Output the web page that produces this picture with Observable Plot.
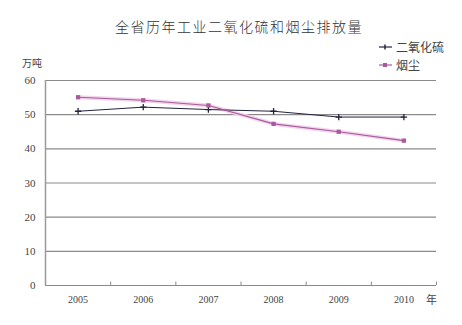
<!DOCTYPE html>
<html><head><meta charset="utf-8">
<script src="https://cdn.jsdelivr.net/npm/d3@7"></script>
<script src="https://cdn.jsdelivr.net/npm/@observablehq/plot@0.6"></script>
<style>
html,body{margin:0;padding:0;background:#fff;}
#wrap{position:relative;width:462px;height:325px;font-family:"Liberation Serif","DejaVu Serif","Noto Sans CJK SC",serif;color:#333;}
#wrap svg{position:absolute;left:0;top:0;}
.ov{position:absolute;white-space:nowrap;}
#title{left:0;width:478px;top:16px;text-align:center;font-size:14px;letter-spacing:1.5px;font-family:"Noto Sans CJK SC",sans-serif;font-weight:300;color:#333;}
#unit{left:22px;top:55px;font-size:10px;font-family:"Noto Sans CJK SC",sans-serif;color:#444;}
#yr{left:426px;top:291px;font-size:11px;font-family:"Noto Sans CJK SC",sans-serif;color:#444;}
#legend{left:379px;top:38px;font-size:12px;font-family:"Noto Sans CJK SC",sans-serif;color:#444;line-height:18px;}
#legend div{display:flex;align-items:center;}
#legend svg{position:static;margin-right:3px;}
</style>
</head><body>
<div id="wrap">
  <div class="ov" id="title">全省历年工业二氧化硫和烟尘排放量</div>
  <div class="ov" id="unit">万吨</div>
  <div class="ov" id="yr">年</div>
  <div class="ov" id="legend"></div>
</div>
<script>
const years = [2005, 2006, 2007, 2008, 2009, 2010];
const so2 = [51.0, 52.2, 51.5, 51.0, 49.3, 49.3];
const dust = [55.1, 54.2, 52.7, 47.3, 45.0, 42.4];
const yTicks = [0, 10, 20, 30, 40, 50, 60];
const seriesNames = ["二氧化硫", "烟尘"];
const colors = {so2: "#23233d", dust: "#a85a9c", dustHalo: "#f2d4ec"};

const xDomain = [years[0] - 0.5, years[years.length - 1] + 0.5];
const boundaries = years.map(y => y + 0.5);
const so2Data = years.map((y, i) => ({year: y, value: so2[i]}));
const dustData = years.map((y, i) => ({year: y, value: dust[i]}));

const chart = Plot.plot({
  width: 462,
  height: 325,
  marginTop: 80,
  marginLeft: 45,
  marginRight: 26,
  marginBottom: 40,
  style: {fontFamily: '"Liberation Serif","DejaVu Serif",serif', fontSize: "11px", color: "#444", background: "transparent"},
  x: {domain: xDomain, label: null},
  y: {domain: [0, 60], label: null},
  marks: [
    Plot.ruleY(yTicks, {stroke: "#8a8a8a", strokeWidth: 1.1}),
    Plot.ruleX([xDomain[0]], {stroke: "#9a9a9a", strokeWidth: 1.5}),
    Plot.ruleX(boundaries, {y1: yTicks[0], y2: 1, stroke: "#8a8a8a", strokeWidth: 1}),
    Plot.axisY(yTicks, {tickSize: 0, tickPadding: 10, fontSize: 11, label: null}),
    Plot.axisX(years, {tickSize: 0, tickPadding: 10, fontSize: 10, tickFormat: d => String(d), label: null}),
    Plot.line(dustData, {x: "year", y: "value", stroke: colors.dustHalo, strokeWidth: 4}),
    Plot.line(so2Data, {x: "year", y: "value", stroke: colors.so2, strokeWidth: 1}),
    Plot.line(dustData, {x: "year", y: "value", stroke: colors.dust, strokeWidth: 1.1}),
    Plot.dot(so2Data, {x: "year", y: "value", symbol: "plus", r: 2.2, stroke: colors.so2, strokeWidth: 1.3}),
    Plot.dot(dustData, {x: "year", y: "value", symbol: "square", r: 2.4, fill: colors.dust, stroke: "none"})
  ]
});
document.getElementById("wrap").prepend(chart);

const leg = document.getElementById("legend");
[[seriesNames[0], colors.so2, "plus"], [seriesNames[1], colors.dust, "square"]].forEach(([name, c, sym]) => {
  const row = document.createElement("div");
  const m = sym === "plus"
    ? `<line x1="6" y1="3.5" x2="6" y2="8.5" stroke="${c}" stroke-width="1.5"/>`
    : `<rect x="4" y="4" width="4" height="4" fill="${c}"/>`;
  row.innerHTML = `<svg width="14" height="12"><line x1="0" y1="6" x2="13" y2="6" stroke="${c}" stroke-width="1.2"/>${m}</svg><span>${name}</span>`;
  leg.appendChild(row);
});
</script>
</body></html>
